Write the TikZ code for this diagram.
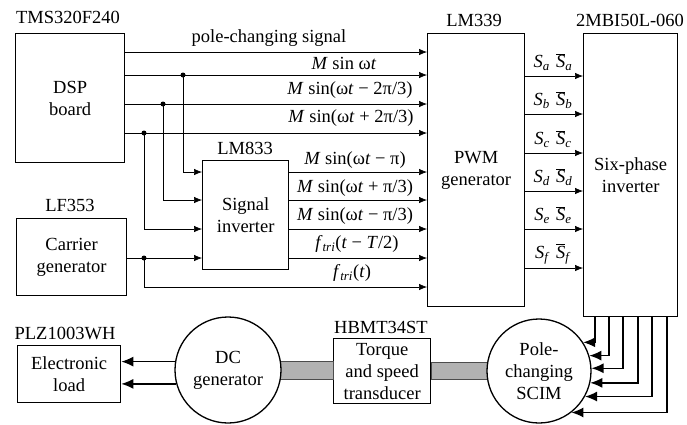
\documentclass[tikz,border=0pt]{standalone}
\usepackage{fontspec}
\setmainfont{LiberationSerif-Regular.ttf}[ItalicFont=LiberationSerif-Italic.ttf, BoldFont=LiberationSerif-Bold.ttf]
\usetikzlibrary{arrows.meta,calc}
\begin{document}
\begin{tikzpicture}[x=1pt,y=-1pt,
  font=\fontsize{18.5}{22}\selectfont,
  box/.style={draw, line width=1.3pt, align=center, inner sep=0pt, anchor=north west},
  rnd/.style={draw, circle, line width=1.3pt, fill=white, align=center, inner sep=0pt},
  wire/.style={line width=0.7pt},
  sig/.style={line width=0.7pt, -{Latex[length=8pt,width=6.5pt]}},
  big/.style={line width=1.3pt, -{Latex[length=12pt,width=10pt]}},
  jdot/.style={circle, fill, inner sep=0pt, minimum size=5pt},
  lbl/.style={inner sep=0pt},
  shaft/.style={draw=gray!60!black, line width=0.5pt, fill=gray!60}
]
\useasboundingbox (0,0) rectangle (687,424);

% blocks
\node[box, minimum width=109pt, minimum height=129pt] (dsp) at (15,33) {DSP\\board};
\node[box, minimum width=110pt, minimum height=77pt] (car) at (16,218) {Carrier\\generator};
\node[box, minimum width=86pt, minimum height=109pt] (si) at (202,160) {Signal\\inverter};
\node[box, minimum width=97pt, minimum height=273pt] (pwm) at (427,33) {PWM\\generator};
\node[box, minimum width=94pt, minimum height=283pt] (inv) at (583,33) {Six-phase\\inverter};
\node[box, minimum width=103pt, minimum height=57pt] (load) at (17,345) {Electronic\\load};
\node[box, minimum width=97pt, minimum height=65pt] (tq) at (333,338) {Torque\\and speed\\transducer};

% part labels
\node[lbl] (l1) at (68,17) {TMS320F240};
\node[lbl] (l2) at (245,148) {LM833};
\node[lbl] (l3) at (474,20) {LM339};
\node[lbl] (l4) at (630,20) {2MBI50L-060};
\node[lbl] (l5) at (70,205) {LF353};
\node[lbl] (l6) at (65,333) {PLZ1003WH};
\node[lbl] (l7) at (381,327) {HBMT34ST};

% level coordinates
\coordinate (yp) at (0,52);
\coordinate (ya) at (0,75);
\coordinate (yb) at (0,104);
\coordinate (yc) at (0,133);
\coordinate (k1) at (0,172);
\coordinate (k2) at (0,200);
\coordinate (k3) at (0,229);
\coordinate (k4) at (0,258);
\coordinate (k5) at (0,287);

% junction dots
\node[jdot] (j1) at (183,75) {};
\node[jdot] (j2) at (163,104) {};
\node[jdot] (j3) at (144,133) {};
\node[jdot] (j4) at (144,258) {};

% DSP outputs
\draw[sig] (dsp.east |- yp) -- (pwm.west |- yp);
\draw[sig] (dsp.east |- ya) -- (pwm.west |- ya);
\draw[sig] (dsp.east |- yb) -- (pwm.west |- yb);
\draw[sig] (dsp.east |- yc) -- (pwm.west |- yc);
\draw[sig] (j1.center) |- (si.west |- k1);
\draw[sig] (j2.center) |- (si.west |- k2);
\draw[sig] (j3.center) |- (si.west |- k3);
% carrier
\draw[sig] (car.east |- k4) -- (si.west |- k4);
\draw[sig] (j4.center) |- (pwm.west |- k5);
% signal inverter outputs
\draw[sig] (si.east |- k1) -- (pwm.west |- k1);
\draw[sig] (si.east |- k2) -- (pwm.west |- k2);
\draw[sig] (si.east |- k3) -- (pwm.west |- k3);
\draw[sig] (si.east |- k4) -- (pwm.west |- k4);

% signal labels
\node[lbl] (t0) at (269,38) {pole-changing signal};
\node[lbl] (t1) at (344,63) {\textit{M} sin ω\textit{t}};
\node[lbl] (t2) at (350,90) {\textit{M} sin(ω\textit{t} − 2π/3)};
\node[lbl] (t3) at (351,118) {\textit{M} sin(ω\textit{t} + 2π/3)};
\node[lbl] (t4) at (355,160) {\textit{M} sin(ω\textit{t} − π)};
\node[lbl] (t5) at (355,188) {\textit{M} sin(ω\textit{t} + π/3)};
\node[lbl] (t6) at (355,216) {\textit{M} sin(ω\textit{t} − π/3)};
\node[lbl] (t7) at (357,244) {\textit{f}\textsubscript{\textit{tri}}(\textit{t} − \textit{T}/2)};
\node[lbl] (t8) at (352,273) {\textit{f}\textsubscript{\textit{tri}}(\textit{t})};

% PWM -> inverter
\foreach \n/\yy/\s in {a/76/a, b/114/b, c/153/c, d/191/d, e/229/e, f/268/f}{
  \coordinate (s\n) at (0,\yy);
  \draw[sig] (pwm.east |- s\n) -- (inv.west |- s\n);
  \node[lbl] (ls\n) at (553,\yy-14) {\textit{S}\textsubscript{\textit{\s}}\,\,$\overline{\hbox{\textit{S}}}$\textsubscript{\textit{\s}}};
}

% shaft and machines
\coordinate (dcc) at (228,370);
\coordinate (scc) at (539,371);
\draw[shaft] ($(dcc)+(0,-8.5)$) rectangle ($(tq.west)+(0,8.5)$);
\draw[shaft] ($(tq.east)+(0,-8.5)$) rectangle ($(scc)+(0,8.5)$);
\node[rnd, minimum size=106pt] (dc) at (dcc) {DC\\generator};
\node[rnd, minimum size=104pt] (scim) at (scc) {Pole-\\changing\\SCIM};

% DC generator -> load
\draw[big] (dc.171.3) -- (dc.171.3 -| load.east);
\draw[big] (dc.195.3) -- (dc.195.3 -| load.east);

% inverter -> SCIM
\foreach \xx/\ang in {595/33.2, 609/17.6, 623/3.2, 638/-13.1, 652/-29.4, 667/-52.4}{
  \coordinate (ox) at (\xx,0);
  \draw[big] (inv.south -| ox) |- (scim.\ang);
}
\end{tikzpicture}
\end{document}
